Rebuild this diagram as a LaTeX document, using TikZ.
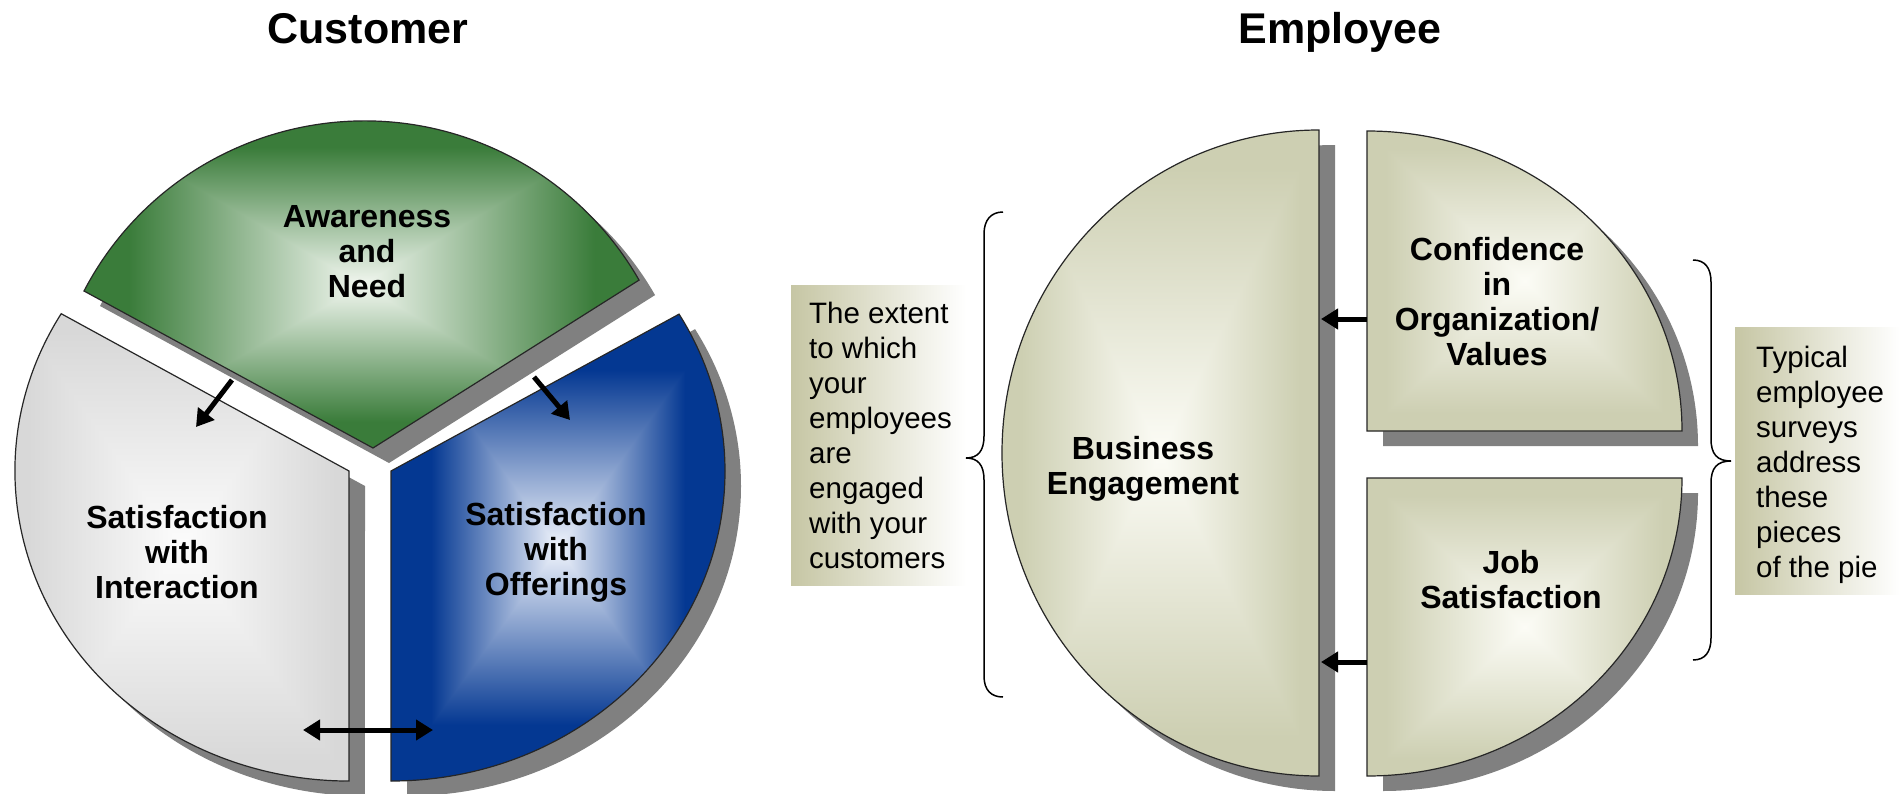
\documentclass[tikz,border=0pt]{standalone}
\usepackage{fontspec}
\setmainfont{Liberation Sans}
\usetikzlibrary{arrows.meta}
\definecolor{gC}{RGB}{58,124,58}
\definecolor{gW}{RGB}{242,247,240}
\definecolor{bC}{RGB}{4,56,146}
\definecolor{bW}{RGB}{240,244,252}
\definecolor{sC}{RGB}{216,216,216}
\definecolor{sW}{RGB}{252,252,252}
\definecolor{eC}{RGB}{205,207,178}
\definecolor{eW}{RGB}{252,252,246}
\definecolor{shadowc}{RGB}{128,128,128}
\definecolor{boxc}{RGB}{198,198,164}
\newcommand\mkshade[4]{%
 \pgfdeclarehorizontalshading{#1H}{100bp}{color(0bp)=(#2); color(25bp)=(#2); color(#4bp)=(#2); color(50bp)=(#3); color(\the\numexpr100-#4\relax bp)=(#2); color(75bp)=(#2); color(100bp)=(#2)}%
 \pgfdeclareverticalshading{#1V}{100bp}{color(0bp)=(#2); color(25bp)=(#2); color(#4bp)=(#2); color(50bp)=(#3); color(\the\numexpr100-#4\relax bp)=(#2); color(75bp)=(#2); color(100bp)=(#2)}}
\mkshade{g}{gC}{gW}{29}
\mkshade{b}{bC}{bW}{31}
\mkshade{s}{sC}{sW}{27}
\mkshade{e}{eC}{eW}{28}
\newcommand\rectgrad[5]{%
 \shade[shading=#1H] (#2,#3) rectangle (#4,#5);
 \shade[shading=#1V] (#2,#3) -- (#4,#3) -- (#2,#5) -- (#4,#5) -- cycle;}
\newcommand\pGreen{(373,448) -- (84,291) arc[start angle=207.55, end angle=330.2, radius=316.4] -- cycle}
\newcommand\pGrey{(349,471) -- (61.2,313.7) arc[start angle=210.5, end angle=90, x radius=334, y radius=310] -- cycle}
\newcommand\pBlue{(391,471) -- (391,781) arc[start angle=90, end angle=-30.4, x radius=334, y radius=310] -- cycle}
\newcommand\pBE{(1319,130) arc[start angle=270, end angle=90, x radius=317, y radius=323] -- cycle}
\newcommand\pCO{(1367,431) -- (1367,131) arc[start angle=270, end angle=360, x radius=315, y radius=300] -- cycle}
\newcommand\pJS{(1367,478) -- (1682,478) arc[start angle=0, end angle=90, x radius=315, y radius=298] -- cycle}
\begin{document}
\begin{tikzpicture}[x=1bp,y=-1bp,
  lab/.style={font=\bfseries\fontsize{32bp}{35bp}\selectfont, align=center, inner sep=0},
  ttl/.style={font=\bfseries\fontsize{43bp}{50bp}\selectfont, inner sep=0, anchor=base},
  btxt/.style={font=\fontsize{29.5bp}{35bp}\selectfont, align=left, inner sep=0, anchor=north west},
  outl/.style={draw=black!85, line width=1.2bp},
  shd/.style={fill=shadowc, shift={(16,15)}},
  arr/.style={line width=5bp, -{Triangle[length=17bp,width=20bp]}},
  darr/.style={line width=5bp, {Triangle[length=17bp,width=20bp]}-{Triangle[length=17bp,width=20bp]}},
  brc/.style={draw=black, line width=1.5bp}]
\useasboundingbox (0,0) rectangle (1900,794);
\fill[white] (0,0) rectangle (1900,794);
% shadows
\fill[shd] \pGreen;
\fill[shd] \pGrey;
\fill[shd] \pBlue;
\fill[shd] \pBE;
\fill[shd] \pCO;
\fill[shd] \pJS;
% customer pie
\begin{scope}\clip \pGreen; \rectgrad{g}{84}{121}{639}{448}\end{scope}
\draw[outl] \pGreen;
\begin{scope}\clip \pGrey; \rectgrad{s}{15}{313}{349}{781}\end{scope}
\draw[outl] \pGrey;
\begin{scope}\clip \pBlue; \rectgrad{b}{391}{314}{725}{781}\end{scope}
\draw[outl] \pBlue;
% employee pie
\begin{scope}\clip \pBE; \rectgrad{e}{1002}{130}{1319}{776}\end{scope}
\draw[outl] \pBE;
\begin{scope}\clip \pCO; \rectgrad{e}{1367}{131}{1682}{431}\end{scope}
\draw[outl] \pCO;
\begin{scope}\clip \pJS; \rectgrad{e}{1367}{478}{1682}{776}\end{scope}
\draw[outl] \pJS;
% titles
\node[ttl] (tcust) at (368,44) {Customer};
\node[ttl] (temp) at (1340,44) {Employee};
% labels
\node[lab] (aw) at (367,252) {Awareness\\and\\Need};
\node[lab] (si) at (177,552) {Satisfaction\\with\\Interaction};
\node[lab] (so) at (556,552) {Satisfaction\\with\\Offerings};
\node[lab] (be) at (1143,469) {Business\\Engagement};
\node[lab] (co) at (1497,302) {Confidence\\in\\Organization/\\Values};
\node[lab] (js) at (1511,580) {Job\\Satisfaction};
% arrows
\coordinate (g2s) at (232,380); \coordinate (g2e) at (196,427);
\coordinate (g3s) at (534,377); \coordinate (g3e) at (570,420);
\coordinate (d1) at (303,730); \coordinate (d2) at (433,730);
\coordinate (c1s) at (1367,319); \coordinate (c1e) at (1321,319);
\coordinate (c2s) at (1367,662); \coordinate (c2e) at (1321,662);
\draw[arr] (g2s) -- (g2e);
\draw[arr] (g3s) -- (g3e);
\draw[darr] (d1) -- (d2);
\draw[arr] (c1s) -- (c1e);
\draw[arr] (c2s) -- (c2e);
% text boxes
\shade[left color=boxc, right color=white] (791,285) rectangle (966,585);
\node[btxt] (ltxt) at (809,302) {The extent\\to which\\your\\employees\\are\\engaged\\with your\\customers};
\shade[left color=boxc, right color=white] (1735,327) rectangle (1900,594);
\node[btxt] (rtxt) at (1756,346) {Typical\\employee\\surveys\\address\\these\\pieces\\of the pie};
% braces
\draw[brc] (1003,212) .. controls (991,212) and (984,220) .. (984,234) -- (984,436) .. controls (984,451) and (978,458) .. (966,458) .. controls (978,458) and (984,465) .. (984,480) -- (984,676) .. controls (984,690) and (991,697) .. (1003,697);
\draw[brc] (1693,260) .. controls (1705,260) and (1711,268) .. (1711,282) -- (1711,439) .. controls (1711,454) and (1717,461) .. (1731,461) .. controls (1717,461) and (1711,468) .. (1711,483) -- (1711,638) .. controls (1711,652) and (1705,660) .. (1693,660);
\end{tikzpicture}
\end{document}
